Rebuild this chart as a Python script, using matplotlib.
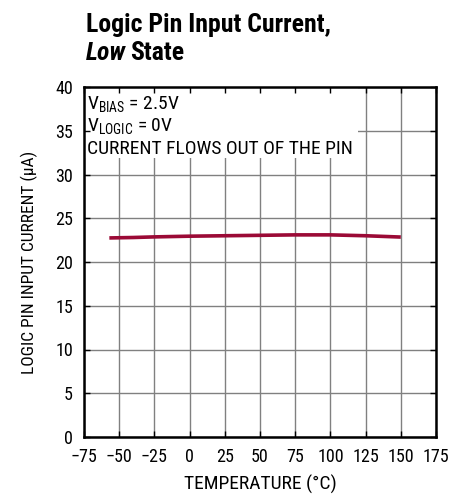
import numpy as np
import matplotlib.pyplot as plt
from matplotlib import font_manager

# curve data
temp = [-57, -40, -25, 0, 25, 50, 75, 100, 125, 150]
current = [22.75, 22.8, 22.87, 22.95, 23.0, 23.05, 23.1, 23.1, 23.0, 22.85]

x_ticks = [-75, -50, -25, 0, 25, 50, 75, 100, 125, 150, 175]
y_ticks = [0, 5, 10, 15, 20, 25, 30, 35, 40]

names = {f.name for f in font_manager.fontManager.ttflist}
fam = 'Liberation Sans'
for cand in ['Liberation Sans Narrow', 'Roboto Condensed', 'Open Sans Condensed']:
    if cand in names:
        fam = cand
        break
plt.rcParams['font.family'] = [fam, 'DejaVu Sans']

fig = plt.figure(figsize=(4.65, 4.96), dpi=100)
ax = fig.add_axes([84 / 465, 1 - 437 / 496, 352 / 465, 350 / 496])

# grid drawn by hand so the text box can hide it while ticks stay on top
for xv in x_ticks:
    ax.axvline(xv, color='#808080', lw=1.0, zorder=1)
for yv in y_ticks:
    ax.axhline(yv, color='#808080', lw=1.0, zorder=1)

ax.plot(temp, current, color='#9b0a36', lw=2.6, solid_capstyle='butt', zorder=3)

ax.set_xlim(-75, 175)
ax.set_ylim(0, 40)
ax.set_xticks(x_ticks)
ax.set_xticklabels([str(t).replace('-', '\u2212') for t in x_ticks])
ax.set_yticks(y_ticks)
ax.set_axisbelow(False)
ax.tick_params(direction='in', length=4, width=1, labelsize=13, top=True, right=True)
ax.tick_params(axis='x', pad=8)
ax.tick_params(axis='y', pad=8)
for s in ax.spines.values():
    s.set_linewidth(1.8)

ax.set_xlabel('TEMPERATURE (°C)', fontsize=14, labelpad=6)
ax.set_ylabel('LOGIC PIN INPUT CURRENT (µA)', fontsize=12.5, labelpad=12)

# white box behind the condition text
ax.axvspan(-75, 119.5, ymin=31.9 / 40, ymax=1, color='white', zorder=2, lw=0)
ax.text(-73, 37.37, 'V$_{\\mathregular{BIAS}}$ = 2.5V', fontsize=14, va='baseline', zorder=4)
ax.text(-73, 34.86, 'V$_{\\mathregular{LOGIC}}$ = 0V', fontsize=14, va='baseline', zorder=4)
ax.text(-73, 32.34, 'CURRENT FLOWS OUT OF THE PIN', fontsize=14, va='baseline', zorder=4)

fig.text(86 / 465, 1 - 32 / 496, 'Logic Pin Input Current,', fontsize=18.5, fontweight='bold', va='baseline')
t1 = fig.text(86 / 465, 1 - 60 / 496, 'Low', fontsize=18.5, fontweight='bold', style='italic', va='baseline')
fig.canvas.draw()
bb = t1.get_window_extent()
fig.text((bb.x1 + 4) / 465, 1 - 60 / 496, 'State', fontsize=18.5, fontweight='bold', va='baseline')

fig.savefig('out.png', dpi=100)
